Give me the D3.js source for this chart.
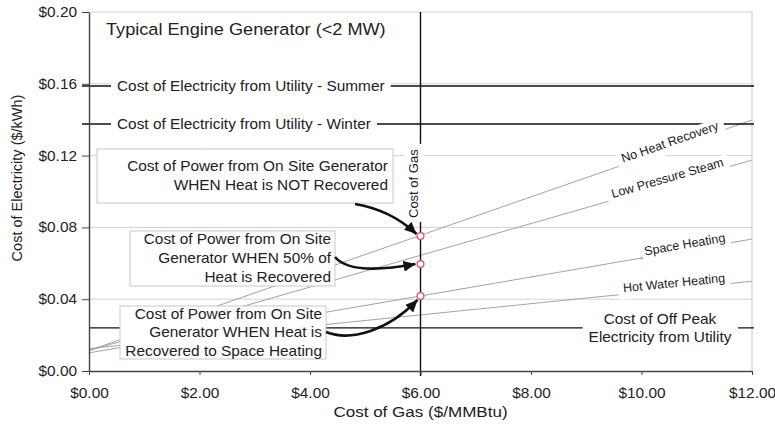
<!DOCTYPE html>
<html>
<head>
<meta charset="utf-8">
<script src="https://cdn.jsdelivr.net/npm/d3@7"></script>
<style>
  body { margin: 0; background: #fff; }
  svg text { font-family: "Liberation Sans", Arial, Helvetica, sans-serif; fill: #222; }
</style>
</head>
<body>
<div id="chart"></div>
<script>
// values
var gasTicks = [0, 2, 4, 6, 8, 10, 12];
var elecTicks = [0, 0.04, 0.08, 0.12, 0.16, 0.20];

var curveNames = ['No Heat Recovery', 'Low Pressure Steam', 'Space Heating', 'Hot Water Heating'];
var curveAtZero = [0.0114, 0.0114, 0.0101, 0.0125];     // $/kWh at $0 gas
var curveAtTwelve = [0.1398, 0.1175, 0.0735, 0.0500];   // $/kWh at $12 gas
var curveLabelAt = [10.55, 10.5, 10.8, 10.6];           // gas price where the label sits

var utilityNames = ['Cost of Electricity from Utility - Summer',
    'Cost of Electricity from Utility - Winter',
    'Cost of Off Peak|Electricity from Utility'];
var utilityRates = [0.1588, 0.1376, 0.024];

var gasPrice = 6;
var sitePoints = [0.0752, 0.0596, 0.0418];
var siteNotes = [
    ['Cost of Power from On Site Generator', 'WHEN Heat is NOT Recovered'],
    ['Cost of Power from On Site', 'Generator WHEN 50% of', 'Heat is Recovered'],
    ['Cost of Power from On Site', 'Generator WHEN Heat is', 'Recovered to Space Heating']
];
var spaceHeatMarker = 10;

// the source lettering is a bit wide, stretch horizontal text by this much
var sx = 1.1;

// set the dimensions and margins of the graph
var margin = { top: 12, right: 23, bottom: 63, left: 89 },
    width = 775 - margin.left - margin.right,
    height = 434 - margin.top - margin.bottom;

var x = d3.scaleLinear().domain([0, 12]).range([0, width]);
var y = d3.scaleLinear().domain([0, 0.2]).range([height, 0]);

var svg = d3.select('#chart').append('svg')
    .attr('width', 775)
    .attr('height', 434)
    .append('g')
    .attr('transform', `translate(${margin.left},${margin.top})`);

// widen a text about its anchor x, return the widened box
function widen(t, ax) {
    t.attr('transform', `translate(${ax},0) scale(${sx},1) translate(${-ax},0)`);
    var bb = t.node().getBBox();
    return { x: ax + (bb.x - ax) * sx, y: bb.y, width: bb.width * sx, height: bb.height };
}

svg.append('defs').append('marker')
    .attr('id', 'head')
    .attr('markerUnits', 'userSpaceOnUse')
    .attr('markerWidth', 13).attr('markerHeight', 11)
    .attr('refX', 12).attr('refY', 5.5)
    .attr('orient', 'auto')
    .append('path')
    .attr('d', 'M0,0 L12,5.5 L0,11 Z')
    .attr('fill', '#111');

// gridlines
svg.selectAll('.grid')
    .data(elecTicks.slice(1))
    .enter().append('line')
    .attr('x1', 0).attr('x2', width)
    .attr('y1', function (d) { return y(d); })
    .attr('y2', function (d) { return y(d); })
    .attr('stroke', '#d2d2d2');
svg.append('line')
    .attr('x1', width).attr('x2', width)
    .attr('y1', 0).attr('y2', height)
    .attr('stroke', '#c4c4c4');

// cost curves
var curves = curveNames.map(function (n, i) {
    return { name: n, pts: [[0, curveAtZero[i]], [12, curveAtTwelve[i]]], at: curveLabelAt[i] };
});
var valueline = d3.line()
    .x(function (d) { return x(d[0]); })
    .y(function (d) { return y(d[1]); });
svg.selectAll('.curve')
    .data(curves)
    .enter().append('path')
    .attr('d', function (d) { return valueline(d.pts); })
    .attr('fill', 'none')
    .attr('stroke', '#a3a3a3')
    .attr('stroke-width', 1);

// utility rate lines
svg.selectAll('.utility')
    .data(utilityRates)
    .enter().append('line')
    .attr('x1', function (d, i) { return i < 2 ? -7 : 0; })
    .attr('x2', width + 2)
    .attr('y1', function (d) { return y(d); })
    .attr('y2', function (d) { return y(d); })
    .attr('stroke', '#111')
    .attr('stroke-width', 1.4);

// cost of gas line
svg.append('line')
    .attr('x1', x(gasPrice)).attr('x2', x(gasPrice))
    .attr('y1', 0).attr('y2', height + 5)
    .attr('stroke', '#111')
    .attr('stroke-width', 1.4);

// curve labels, rotated along each line
curves.forEach(function (c) {
    var a = c.pts[0], b = c.pts[1];
    var ang = Math.atan2(y(b[1]) - y(a[1]), x(b[0]) - x(a[0])) * 180 / Math.PI;
    var v = a[1] + (b[1] - a[1]) * (c.at - a[0]) / (b[0] - a[0]);
    var g = svg.append('g')
        .attr('transform', `translate(${x(c.at)},${y(v)}) rotate(${ang})`);
    var t = g.append('text')
        .attr('text-anchor', 'middle')
        .attr('y', -2)
        .style('font-size', '12.5px')
        .text(c.name);
    var bb = t.node().getBBox();
    g.insert('rect', 'text')
        .attr('x', bb.x - 5).attr('y', bb.y)
        .attr('width', bb.width + 10).attr('height', bb.height + 4)
        .attr('fill', '#fff');
});

// space heating marker
var sh = curves[2].pts;
svg.append('circle')
    .attr('cx', x(spaceHeatMarker))
    .attr('cy', y(sh[0][1] + (sh[1][1] - sh[0][1]) * spaceHeatMarker / 12))
    .attr('r', 1.6)
    .attr('fill', '#7fd6c8');

// utility labels
utilityRates.forEach(function (r, i) {
    var lines = utilityNames[i].split('|');
    var ax = i < 2 ? 28 : 571;
    var g = svg.append('g');
    var t = g.append('text')
        .attr('text-anchor', i < 2 ? 'start' : 'middle')
        .style('font-size', '14px');
    lines.forEach(function (l, k) {
        t.append('tspan')
            .attr('x', ax)
            .attr('y', i < 2 ? y(r) + 5 : y(r) - 4 + k * 18)
            .text(l);
    });
    var bb = widen(t, ax);
    g.insert('rect', 'text')
        .attr('x', bb.x - 6).attr('y', bb.y)
        .attr('width', bb.width + 12).attr('height', bb.height)
        .attr('fill', '#fff');
});

// cost of gas label
var gg = svg.append('g')
    .attr('transform', `translate(${x(gasPrice) - 3},206) rotate(-90)`);
var gt = gg.append('text')
    .attr('y', 0)
    .style('font-size', '13px')
    .text('Cost of Gas');
var gb = gt.node().getBBox();
gg.insert('rect', 'text')
    .attr('x', gb.x - 4).attr('y', gb.y - 1)
    .attr('width', gb.width + 9).attr('height', gb.height + 5)
    .attr('fill', '#fff');

// note boxes
var boxes = [
    { left: 8, top: 137, w: 296, h: 54, end: 299, first: 154, step: 19 },
    { left: 41, top: 219, w: 205, h: 55, end: 242, first: 227, step: 19 },
    { left: 31, top: 294, w: 206, h: 53, end: 233, first: 302, step: 18.5 }
];
boxes.forEach(function (b, i) {
    svg.append('rect')
        .attr('x', b.left).attr('y', b.top)
        .attr('width', b.w).attr('height', b.h)
        .attr('fill', '#fff')
        .attr('stroke', '#c8c8c8');
    var t = svg.append('text')
        .attr('text-anchor', 'end')
        .style('font-size', '14px');
    t.selectAll('tspan')
        .data(siteNotes[i])
        .enter().append('tspan')
        .attr('x', b.end)
        .attr('y', function (d, k) { return b.first + k * b.step + 5; })
        .text(function (d) { return d; });
    widen(t, b.end);
});

// arrows from the notes to the points
var px = x(gasPrice);
var arrows = [
    function (p) { return `M266,192 Q302,198 ${px - 4},${p - 2}`; },
    function (p) { return `M246,245 Q262,264 ${px - 5},${p}`; },
    function (p) { return `M237,320 C262,330 300,318 ${px - 3},${p + 4}`; }
];
sitePoints.forEach(function (v, i) {
    svg.append('path')
        .attr('d', arrows[i](y(v)))
        .attr('fill', 'none')
        .attr('stroke', '#111')
        .attr('stroke-width', 2.6)
        .attr('marker-end', 'url(#head)');
});

// the points at the gas price
svg.selectAll('.pt')
    .data(sitePoints)
    .enter().append('circle')
    .attr('cx', x(gasPrice))
    .attr('cy', function (d) { return y(d); })
    .attr('r', 3.4)
    .attr('fill', '#fff')
    .attr('stroke', '#e0506a')
    .attr('stroke-width', 1.3);

// title
var title = svg.append('text')
    .attr('x', 17).attr('y', 23)
    .style('font-size', '16.5px')
    .text('Typical Engine Generator (<2 MW)');
widen(title, 17);

// add the X Axis
var xAxis = svg.append('g')
    .attr('transform', 'translate(0,' + height + ')')
    .call(d3.axisBottom(x).tickValues(gasTicks).tickSize(4).tickSizeOuter(0)
        .tickFormat(function (d) { return '$' + d3.format('.2f')(d); }));
xAxis.selectAll('text')
    .style('font-size', '14px')
    .attr('y', 27).attr('dy', 0)
    .attr('fill', '#333')
    .each(function () { widen(d3.select(this), 0); });

// add the Y Axis
var yAxis = svg.append('g')
    .call(d3.axisLeft(y).tickValues(elecTicks).tickSize(7).tickSizeOuter(0)
        .tickFormat(function (d) { return '$' + d3.format('.2f')(d); }));
yAxis.selectAll('text')
    .style('font-size', '14px')
    .attr('x', -12)
    .attr('fill', '#333')
    .each(function () { widen(d3.select(this), -12); });
svg.selectAll('.domain').attr('stroke', '#444').attr('stroke-width', 1.4);
svg.selectAll('.tick line').attr('stroke', '#444');

// axis titles
var xt = svg.append('text')
    .attr('x', x(gasPrice))
    .attr('y', height + 46)
    .attr('text-anchor', 'middle')
    .style('font-size', '15.5px')
    .text('Cost of Gas ($/MMBtu)');
widen(xt, x(gasPrice));
svg.append('text')
    .attr('transform', `translate(${-67},${166}) rotate(-90)`)
    .attr('text-anchor', 'middle')
    .style('font-size', '14.5px')
    .text('Cost of Electricity ($/kWh)');
</script>
</body>
</html>
